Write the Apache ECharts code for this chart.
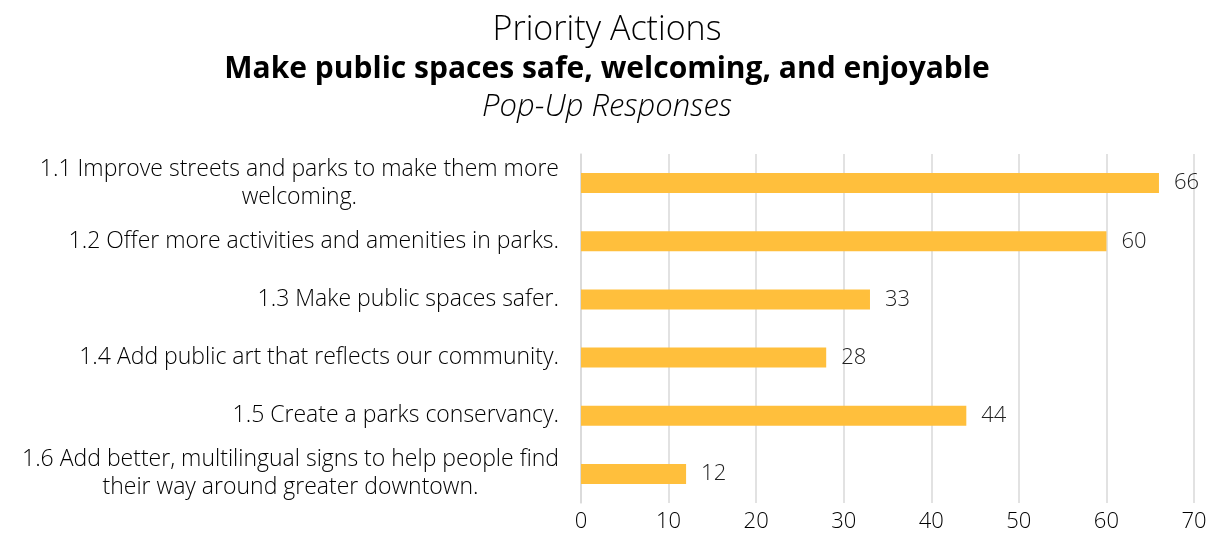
<!DOCTYPE html>
<html>
<head>
<meta charset="utf-8">
<script src="https://cdn.jsdelivr.net/npm/echarts@6/dist/echarts.min.js"></script>
<style>
html,body{margin:0;padding:0;background:#fff;}
#chart{width:1214px;height:546px;}
</style>
</head>
<body>
<div id="chart"></div>
<script>
const categories = [
  "1.1 Improve streets and parks to make them more\nwelcoming.",
  "1.2 Offer more activities and amenities in parks.",
  "1.3 Make public spaces safer.",
  "1.4 Add public art that reflects our community.",
  "1.5 Create a parks conservancy.",
  "1.6 Add better, multilingual signs to help people find\ntheir way around greater downtown."
];
const values = [66, 60, 33, 28, 44, 12];
const xTicks = [0, 10, 20, 30, 40, 50, 60, 70];

const FONT = '"Open Sans"';
const chart = echarts.init(document.getElementById('chart'));
chart.setOption({
  backgroundColor: '#fff',
  animation: false,
  title: [
    { text: 'Priority Actions', left: 'center', top: 8, textStyle: { fontFamily: FONT, fontWeight: 300, fontSize: 34, color: '#000' } },
    { text: 'Make public spaces safe, welcoming, and enjoyable', left: 'center', top: 49, textStyle: { fontFamily: FONT, fontWeight: 'bold', fontSize: 30, color: '#000' } },
    { text: 'Pop-Up Responses', left: 'center', top: 87, textStyle: { fontFamily: FONT, fontStyle: 'italic', fontWeight: 300, fontSize: 31, color: '#000' } }
  ],
  grid: { left: 581, right: 20, top: 154, bottom: 43, containLabel: false },
  xAxis: {
    type: 'value', min: xTicks[0], max: xTicks[xTicks.length - 1], interval: 10,
    axisLine: { show: false }, axisTick: { show: false },
    splitLine: { show: true, lineStyle: { color: '#d9d9d9', width: 1.5 } },
    axisLabel: { fontFamily: FONT, fontWeight: 300, fontSize: 22, color: '#000', margin: 8 }
  },
  yAxis: {
    type: 'category', data: categories, inverse: true,
    axisLine: { show: true, lineStyle: { color: '#d9d9d9', width: 1.5 } },
    axisTick: { show: false },
    axisLabel: {
      margin: 22, align: 'right',
      formatter: function (v) { return v.split('\n').map(function (s) { return '{c|' + s + '}'; }).join('\n'); },
      rich: { c: { align: 'center', fontFamily: FONT, fontWeight: 300, fontSize: 23, color: '#000', lineHeight: 28 } }
    }
  },
  series: [{
    type: 'bar', data: values, barWidth: 20,
    itemStyle: { color: '#FFBF3C' },
    label: { show: true, position: 'right', distance: 15, fontFamily: FONT, fontWeight: 300, fontSize: 22, color: '#222' }
  }]
});
</script>
</body>
</html>
